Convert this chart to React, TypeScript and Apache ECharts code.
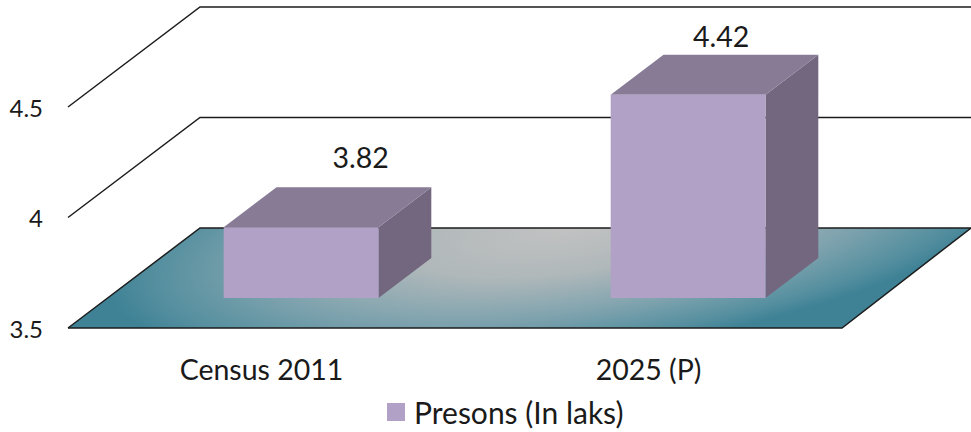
import React, { useEffect, useRef } from "react";
import * as echarts from "echarts";

const categories = ["Census 2011", "2025 (P)"];
const personsInLakh = [3.82, 4.42];
const axisTicks = [3.5, 4, 4.5];
const seriesName = "Presons (In laks)";

const FONT = "Lato, sans-serif";
const WALL_DX = 132;
const WALL_DY = -100;
const BAR_FRONT_DEPTH = 0.3;
const BAR_BACK_DEPTH = 0.7;
const LABEL_SHIFT = [
  [59.5, -30],
  [33, -19],
];

function floorElement(x: number, y: number, w: number) {
  const cx = x + WALL_DX + w / 2 - 20;
  const cy = y + WALL_DY;
  const a = 420, b = -182, d = 140;
  const p = a * a + b * b, q = b * d, r = d * d;
  const theta = 0.5 * Math.atan2(2 * q, p - r);
  const c = Math.cos(theta), s = Math.sin(theta);
  const l1 = Math.sqrt(c * c * p + 2 * c * s * q + s * s * r);
  const l2 = Math.sqrt(s * s * p - 2 * c * s * q + c * c * r);
  const pts = [
    [x, y],
    [x + w, y],
    [x + w + WALL_DX - 3, y + WALL_DY],
    [x + WALL_DX, y + WALL_DY],
  ].map(([px, py]) => {
    const dx = px - cx, dy = py - cy;
    return [((c * dx + s * dy) / l1) * 100, ((-s * dx + c * dy) / l2) * 100];
  });
  return {
    type: "polygon",
    x: cx,
    y: cy,
    scaleX: l1 / 100,
    scaleY: l2 / 100,
    rotation: -theta,
    shape: { points: pts },
    style: {
      fill: new echarts.graphic.RadialGradient(0, 0, 100, [
        { offset: 0, color: "#c2c2c2" },
        { offset: 0.35, color: "#b0b8ba" },
        { offset: 0.67, color: "#7fa3ae" },
        { offset: 0.9, color: "#558f9f" },
        { offset: 1, color: "#3f8296" },
      ], true),
    },
  };
}

function renderWall(params: any, api: any) {
  const v = api.value(0);
  const sys = params.coordSys;
  const y = api.coord([0, v])[1];
  const x = sys.x;
  const lineStyle = { stroke: "#1c1c1c", lineWidth: 1.5, fill: "none" };
  const children: any[] = [];
  if (params.dataIndex === 0) children.push(floorElement(x, y, sys.width));
  children.push({
    type: "polyline",
    shape: {
      points: [
        [x, y],
        [x + WALL_DX, y + WALL_DY],
        [971, y + WALL_DY],
      ],
    },
    style: lineStyle,
  });
  if (params.dataIndex === 0) {
    children.push({
      type: "polyline",
      shape: {
        points: [
          [971, y + WALL_DY],
          [x + sys.width, y],
          [x, y],
        ],
      },
      style: lineStyle,
    });
  }
  return { type: "group", children };
}

function renderBar(params: any, api: any) {
  const i = params.dataIndex;
  const val = api.value(1);
  const center = api.coord([api.value(0), 3.5]);
  const top = api.coord([api.value(0), val]);
  const w = api.size([1, 0])[0] * 0.4;
  const fx = center[0] + WALL_DX * BAR_FRONT_DEPTH - w / 2;
  const fdy = WALL_DY * BAR_FRONT_DEPTH;
  const bottomY = center[1] + fdy;
  const topY = top[1] + fdy;
  const ddx = WALL_DX * (BAR_BACK_DEPTH - BAR_FRONT_DEPTH);
  const ddy = WALL_DY * (BAR_BACK_DEPTH - BAR_FRONT_DEPTH);
  return {
    type: "group",
    children: [
      {
        type: "polygon",
        shape: { points: [[fx + w, topY], [fx + w + ddx, topY + ddy], [fx + w + ddx, bottomY + ddy], [fx + w, bottomY]] },
        style: { fill: "#73677f" },
      },
      {
        type: "polygon",
        shape: { points: [[fx, topY], [fx + ddx, topY + ddy], [fx + w + ddx, topY + ddy], [fx + w, topY]] },
        style: { fill: "#877b96" },
      },
      {
        type: "rect",
        shape: { x: fx, y: topY, width: w, height: bottomY - topY },
        style: { fill: "#b2a1c7" },
      },
      {
        type: "text",
        style: {
          text: String(val),
          x: fx + w / 2 + LABEL_SHIFT[i][0],
          y: topY + ddy + LABEL_SHIFT[i][1],
          font: `28.5px ${FONT}`,
          fill: "#1a1a1a",
          align: "center",
          verticalAlign: "middle",
        },
      },
    ],
  };
}

export default function App() {
  const ref = useRef<HTMLDivElement>(null);
  useEffect(() => {
    document.body.style.margin = "0";
    const chart = echarts.init(ref.current!, undefined, { renderer: "svg" });
    chart.setOption({
      animation: false,
      grid: { left: 68, right: 129, top: 107, bottom: 104 },
      xAxis: {
        type: "category",
        data: categories,
        axisLine: { show: false },
        axisTick: { show: false },
        axisLabel: { fontFamily: FONT, fontSize: 28.5, color: "#1a1a1a", margin: 26 },
      },
      yAxis: {
        type: "value",
        min: 3.5,
        max: 4.5,
        interval: 0.5,
        splitLine: { show: false },
        axisLine: { show: false },
        axisTick: { show: false },
        axisLabel: { fontFamily: FONT, fontSize: 24, color: "#1a1a1a", margin: 25 },
      },
      legend: {
        left: 382,
        top: 392,
        data: [seriesName],
        icon: "rect",
        itemWidth: 18,
        itemHeight: 18,
        itemGap: 0,
        selectedMode: false,
        textStyle: { fontFamily: FONT, fontSize: 30, color: "#1a1a1a", padding: [0, 0, 0, 4] },
      },
      series: [
        {
          type: "custom",
          name: "walls",
          silent: true,
          clip: false,
          renderItem: renderWall,
          encode: { y: 0 },
          data: axisTicks.map((t) => [t]),
          z: 1,
        },
        {
          type: "custom",
          name: seriesName,
          clip: false,
          renderItem: renderBar,
          encode: { x: 0, y: 1 },
          itemStyle: { color: "#b2a1c7" },
          data: personsInLakh.map((v, i) => [i, v]),
          z: 2,
        },
      ],
    });
    return () => chart.dispose();
  }, []);
  return <div ref={ref} style={{ width: 971, height: 432 }} />;
}
